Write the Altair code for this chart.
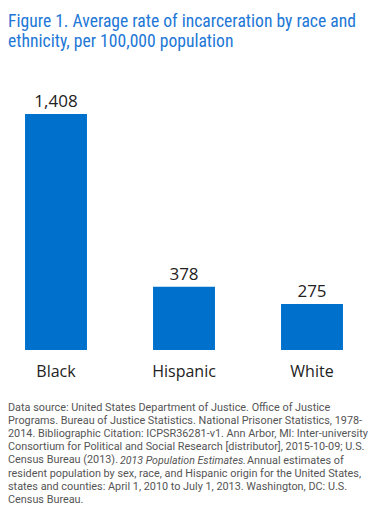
import altair as alt
import pandas as pd

categories = ["Black", "Hispanic", "White"]
values = [1408, 378, 275]
value_labels = ["1,408", "378", "275"]

title_lines = [
    "Figure 1. Average rate of incarceration by race and",
    "ethnicity, per 100,000 population",
]
footnote_lines = [
    "Data source: United States Department of Justice. Office of Justice",
    "Programs. Bureau of Justice Statistics. National Prisoner Statistics, 1978-",
    "2014. Bibliographic Citation: ICPSR36281-v1. Ann Arbor, MI: Inter-university",
    "Consortium for Political and Social Research [distributor], 2015-10-09; U.S.",
    "Census Bureau (2013).",
    "resident population by sex, race, and Hispanic origin for the United States,",
    "states and counties: April 1, 2010 to July 1, 2013. Washington, DC: U.S.",
    "Census Bureau.",
]
footnote_italic = "2013 Population Estimates."
footnote_after_italic = "Annual estimates of"

df = pd.DataFrame({"category": categories, "value": values, "label": value_labels})
one = pd.DataFrame({"k": [0]})

BLUE = "#0070cd"
TITLE_BLUE = "#2277d6"
GRAY = "#555555"
FOOT_SIZE = 10.85

x_enc = alt.X(
    "category:N",
    sort=categories,
    scale=alt.Scale(range=[0, 352], paddingInner=0.516, paddingOuter=0.133),
    axis=None,
)
y_enc = alt.Y(
    "value:Q",
    scale=alt.Scale(domain=[0, 1408], range=[342, 106], nice=False, zero=True),
    axis=None,
)

base = alt.Chart(df)

bars = base.mark_bar(color=BLUE).encode(x=x_enc, y=y_enc)

vals = base.mark_text(
    font="Open Sans", fontSize=17, color="#222222", baseline="alphabetic", dy=-7
).encode(x=x_enc, y=y_enc, text="label:N")

cats = base.mark_text(
    font="Open Sans", fontSize=16, color="#222222", baseline="alphabetic"
).encode(x=x_enc, y=alt.value(369), text="category:N")

title = alt.Chart(one).mark_text(
    text=title_lines,
    font="Roboto Condensed, Noto Sans Condensed, DejaVu Sans Condensed, Liberation Sans Narrow, Arial Narrow, Noto Sans",
    fontSize=17.6,
    lineHeight=20,
    color=TITLE_BLUE,
    align="left",
    baseline="alphabetic",
).encode(x=alt.value(0), y=alt.value(19))

foot = alt.Chart(one).mark_text(
    text=footnote_lines,
    font="Roboto",
    fontSize=FOOT_SIZE,
    lineHeight=13.2,
    color=GRAY,
    align="left",
    baseline="alphabetic",
).encode(x=alt.value(0), y=alt.value(402.7))

foot_it = alt.Chart(one).mark_text(
    text=footnote_italic,
    font="Roboto",
    fontSize=10.6,
    fontStyle="italic",
    color=GRAY,
    align="left",
    baseline="alphabetic",
).encode(x=alt.value(112), y=alt.value(455.5))

foot_after = alt.Chart(one).mark_text(
    text=footnote_after_italic,
    font="Roboto",
    fontSize=FOOT_SIZE,
    color=GRAY,
    align="left",
    baseline="alphabetic",
).encode(x=alt.value(239), y=alt.value(455.5))

chart = (
    alt.layer(bars, vals, cats, title, foot, foot_it, foot_after)
    .properties(width=367, height=505, autosize=alt.AutoSizeParams(type="none"), padding=0)
    .configure_view(stroke=None)
)

chart.save("out.html", embed_options={"renderer": "svg", "actions": False})
